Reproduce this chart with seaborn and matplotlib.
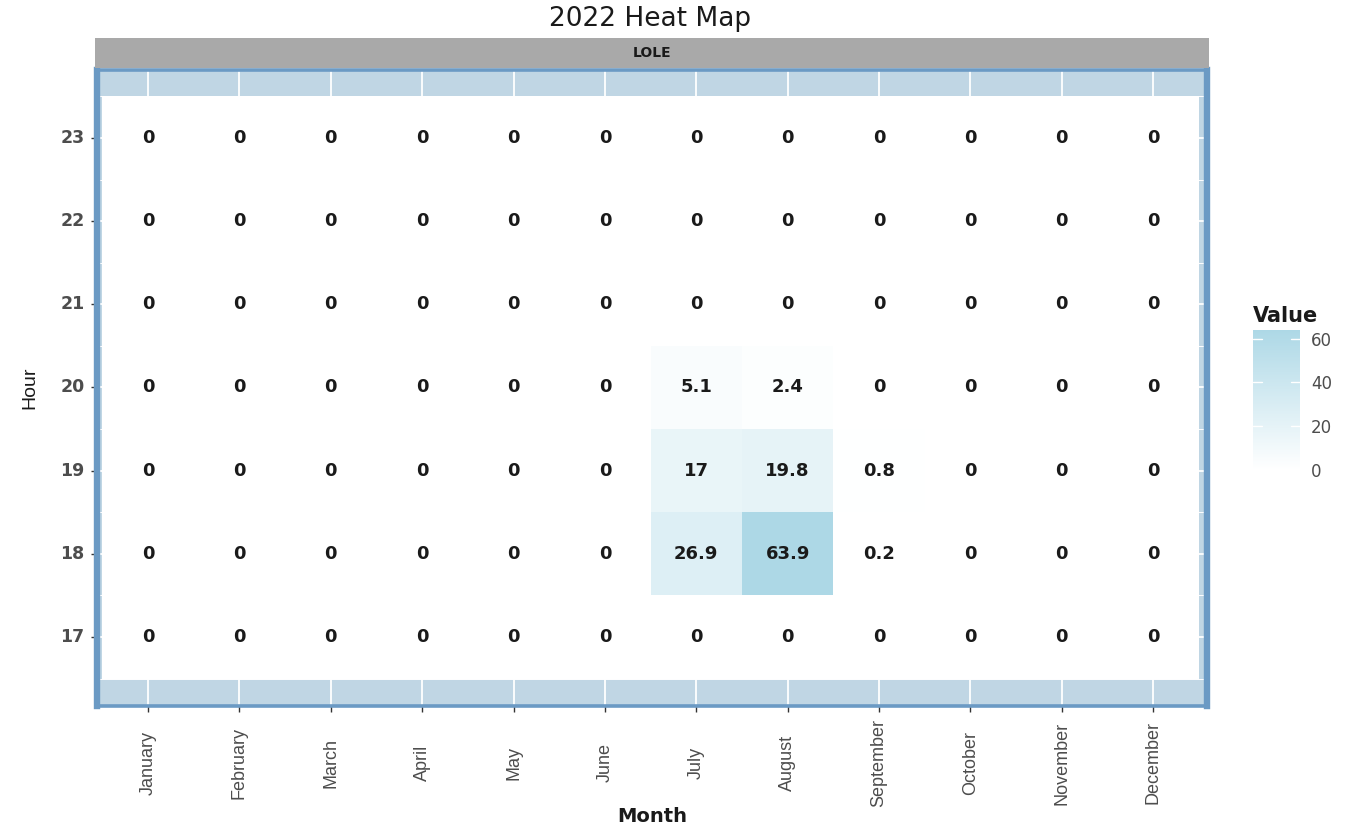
import numpy as np
import pandas as pd
import matplotlib
matplotlib.use("Agg")
import matplotlib.pyplot as plt
from matplotlib.colors import LinearSegmentedColormap
import seaborn as sns

# data
months = ["January", "February", "March", "April", "May", "June", "July",
          "August", "September", "October", "November", "December"]
hours = [23, 22, 21, 20, 19, 18, 17]
july = [0, 0, 0, 5.1, 17, 26.9, 0]
august = [0, 0, 0, 2.4, 19.8, 63.9, 0]
september = [0, 0, 0, 0, 0.8, 0.2, 0]

values = pd.DataFrame(0.0, index=hours, columns=months)
values["July"] = july
values["August"] = august
values["September"] = september
labels = values.map(lambda v: f"{v:g}")

sns.set_theme(style="white")
plt.rcParams["font.family"] = ["DejaVu Sans"]
narrow = ["Liberation Sans", "DejaVu Sans"]

panel_bg = "#c0d6e4"
border = "#6b9ac4"
cmap = LinearSegmentedColormap.from_list("wb", ["#ffffff", "#add8e6"])

fig = plt.figure(figsize=(13.55, 8.27), dpi=100)
ax = fig.add_axes([0.0716, 0.1463, 0.8192, 0.7691])
cax = fig.add_axes([0.9247, 0.4317, 0.0347, 0.1693])

sns.heatmap(values, ax=ax, cbar_ax=cax, cmap=cmap, vmin=0, vmax=values.values.max(),
            annot=labels.values, fmt="",
            annot_kws={"color": "#1a1a1a", "fontsize": 13, "fontweight": "bold"})

ax.set_facecolor(panel_bg)
ax.set_axisbelow(True)
ax.set_yticks(np.arange(len(hours) + 1), minor=True)
ax.grid(True, which="major", color="white", linewidth=1.3)
ax.grid(True, which="minor", axis="y", color="white", linewidth=0.7)
ax.set_xlim(-0.058, 12.09)
ax.set_ylim(7.33, -0.317)
for name, s in ax.spines.items():
    s.set_visible(True)
    s.set_color(border)
    s.set_linewidth(4.6 if name in ("left", "right") else 2.6)

ax.tick_params(axis="both", which="major", length=4, width=1, color="#333333",
               bottom=True, left=True)
ax.tick_params(axis="y", which="minor", length=0)
ax.set_xticklabels(months, rotation=90, va="center", ha="center",
                   family=narrow, fontsize=13, color="#4d4d4d")
ax.tick_params(axis="x", pad=37)
ax.set_yticklabels([str(h) for h in hours], rotation=0, fontsize=12.5,
                   fontweight="bold", color="#4d4d4d")
ax.tick_params(axis="y", pad=5)
ax.set_xlabel("Month", fontsize=14, fontweight="bold", color="#1a1a1a", labelpad=0)
ax.set_ylabel("Hour", family=narrow, fontsize=14, color="#1a1a1a", labelpad=16)

# facet strip
strip = fig.add_axes([0.0701, 0.918, 0.822, 0.036])
strip.set_facecolor("#a9a9a9")
strip.set_xticks([])
strip.set_yticks([])
for s in strip.spines.values():
    s.set_visible(False)
strip.text(0.5, 0.5, "LOLE", ha="center", va="center", fontsize=10,
           fontweight="bold", color="#1a1a1a", transform=strip.transAxes)

fig.suptitle("2022 Heat Map", x=0.48, y=0.993, fontsize=19, color="#1a1a1a")

# colorbar styling
cbar = ax.collections[0].colorbar
cbar.outline.set_visible(False)
cbar.set_ticks([0, 20, 40, 60])
cax.tick_params(length=0, labelsize=12, labelcolor="#4d4d4d", pad=8)
for t in [0, 20, 40, 60]:
    cax.axhline(t, xmin=0, xmax=0.2, color="white", linewidth=1)
    cax.axhline(t, xmin=0.8, xmax=1, color="white", linewidth=1)
cax.set_title("Value", fontsize=15, fontweight="bold", color="#1a1a1a",
              loc="left", pad=6)

fig.savefig("out.png", dpi=100)
